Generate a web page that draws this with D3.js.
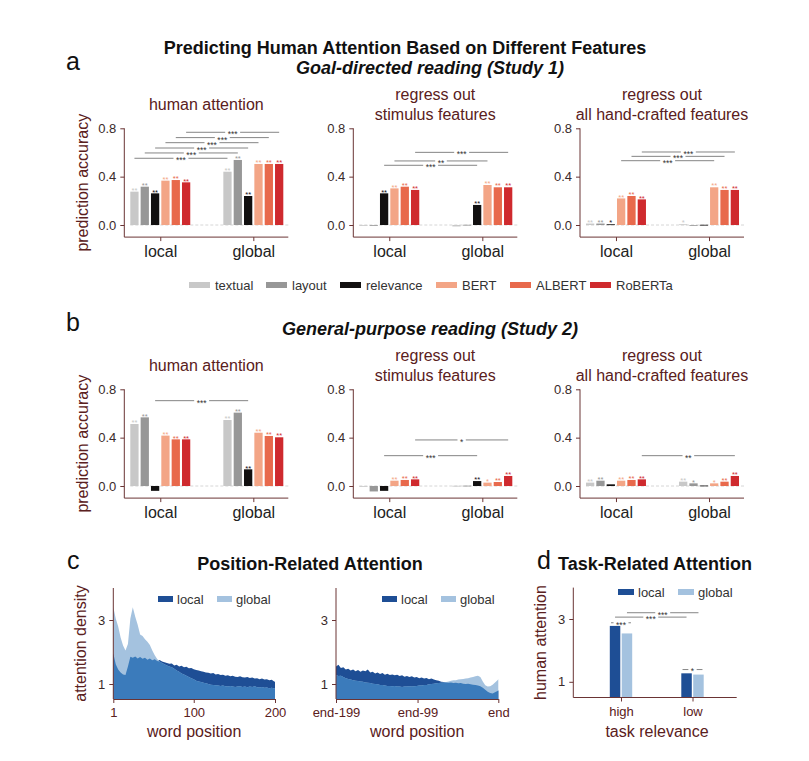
<!DOCTYPE html>
<html><head><meta charset="utf-8">
<script src="https://cdn.jsdelivr.net/npm/d3@7"></script>
<style>
body{margin:0;background:#fff}
text{font-family:"Liberation Sans",Arial,Helvetica,sans-serif}
</style>
</head><body>
<svg id="chart" width="809" height="761"></svg>
<script>
// ---------------- DATA ----------------
const features = ["textual","layout","relevance","BERT","ALBERT","RoBERTa"];
const featureColors = ["#c8c8c8","#979797","#121010","#f3a586","#e8694c","#cf2a2e"];
const groups = ["local","global"];
const barYTicks = [0.0, 0.4, 0.8];

// Panel a (Study 1)
const a1Local  = [0.276, 0.317, 0.262, 0.367, 0.372, 0.353];
const a1Global = [0.441, 0.538, 0.240, 0.505, 0.505, 0.505];
const a1LocalStars  = ["**","**","**","**","**","**"];
const a1GlobalStars = ["**","**","**","**","**","**"];
const a1Brackets = [[0,0.552,"***"],[1,0.596,"***"],[2,0.637,"***"],[3,0.681,"***"],[4,0.723,"***"],[5,0.767,"***"]];

const a2Local  = [0.000, -0.004, 0.262, 0.303, 0.317, 0.290];
const a2Global = [-0.012, 0.002, 0.166, 0.331, 0.312, 0.312];
const a2LocalStars  = ["","","**","**","**","**"];
const a2GlobalStars = ["","","**","**","**","**"];
const a2Brackets = [[2,0.494,"***"],[3,0.530,"**"],[5,0.601,"***"]];

const a3Local  = [0.012, 0.012, 0.006, 0.220, 0.240, 0.212];
const a3Global = [0.006, -0.004, 0.002, 0.312, 0.290, 0.290];
const a3LocalStars  = ["**","**","*","**","**","**"];
const a3GlobalStars = ["*","","","**","**","**"];
const a3Brackets = [[3,0.532,"***"],[4,0.568,"***"],[5,0.604,"***"]];

// Panel b (Study 2)
const b1Local  = [0.513, 0.568, -0.040, 0.417, 0.386, 0.386];
const b1Global = [0.546, 0.607, 0.138, 0.441, 0.414, 0.403];
const b1LocalStars  = ["**","**","","**","**","**"];
const b1GlobalStars = ["**","**","**","**","**","**"];
const b1Brackets = [[2,0.706,"***"]];

const b2Local  = [-0.003, -0.045, -0.040, 0.044, 0.050, 0.055];
const b2Global = [0.002, 0.003, 0.041, 0.028, 0.033, 0.083];
const b2LocalStars  = ["","","","**","**","**"];
const b2GlobalStars = ["","","**","*","**","**"];
const b2Brackets = [[2,0.251,"***"],[5,0.381,"*"]];

const b3Local  = [0.028, 0.044, 0.014, 0.044, 0.050, 0.055];
const b3Global = [0.036, 0.022, 0.004, 0.022, 0.036, 0.083];
const b3LocalStars  = ["**","**","","**","**","**"];
const b3GlobalStars = ["**","*","","*","**","**"];
const b3Brackets = [[5,0.251,"**"]];

// Panel c: attention density by word position (sampled every 3 words)
const cFirstLocal = [1.95,1.62,1.45,1.36,1.30,1.28,1.55,1.85,1.82,1.86,1.80,1.84,1.79,1.82,1.76,1.80,1.74,1.77,1.72,1.75,
  1.70,1.68,1.66,1.63,1.64,1.58,1.60,1.55,1.57,1.52,1.54,1.49,1.50,1.46,1.44,1.42,1.40,1.38,1.36,1.35,
  1.33,1.34,1.30,1.31,1.28,1.29,1.26,1.27,1.24,1.26,1.23,1.22,1.24,1.21,1.20,1.22,1.19,1.20,1.17,1.18,
  1.15,1.17,1.14,1.15,1.12,1.13,1.08,1.07];
const cFirstGlobal = [3.40,3.05,2.80,2.45,2.20,2.05,2.25,3.05,3.40,3.10,2.85,2.55,2.50,2.40,2.32,2.22,2.05,1.90,1.78,1.70,
  1.66,1.62,1.58,1.55,1.52,1.48,1.42,1.38,1.33,1.30,1.26,1.22,1.18,1.15,1.10,1.08,1.06,1.04,1.02,1.00,
  0.98,0.97,0.96,0.95,0.94,0.95,0.93,0.92,0.94,0.92,0.91,0.92,0.93,0.91,0.92,0.90,0.92,0.91,0.93,0.90,
  0.89,0.91,0.88,0.89,0.87,0.88,0.86,0.86];
const cLastLocal = [1.55,1.60,1.50,1.52,1.45,1.48,1.42,1.45,1.40,1.44,1.38,1.42,1.40,1.45,1.36,1.38,1.33,1.36,1.31,1.34,
  1.29,1.32,1.28,1.30,1.27,1.29,1.25,1.27,1.23,1.25,1.22,1.24,1.20,1.22,1.18,1.20,1.17,1.19,1.15,1.17,
  1.14,1.12,1.10,1.07,1.06,1.05,1.04,1.05,1.03,1.04,1.02,1.03,1.01,1.00,1.01,0.99,0.98,0.97,0.95,0.93,
  0.88,0.82,0.76,0.72,0.70,0.74,0.78,0.80];
const cLastGlobal = [1.28,1.25,1.26,1.22,1.18,1.16,1.14,1.12,1.10,1.09,1.08,1.07,1.05,1.04,1.03,1.01,1.00,0.99,0.97,0.97,
  0.95,0.94,0.94,0.93,0.94,0.92,0.92,0.91,0.92,0.92,0.93,0.92,0.93,0.94,0.95,0.95,0.97,0.97,0.99,1.00,
  1.01,1.02,1.03,1.04,1.05,1.06,1.08,1.10,1.12,1.12,1.14,1.15,1.16,1.17,1.18,1.20,1.22,1.24,1.26,1.22,
  1.08,0.96,0.92,0.93,0.98,1.05,1.12,1.15];
const cFirstTicks = [1, 100, 200];
const cLastTicks = [0, 100, 199];
const cLastTickLabels = ["end-199","end-99","end"];
const densityTicks = [1, 3];

// Panel d: task-related attention
const dCategories = ["high","low"];
const dLocal  = [2.78, 1.27];
const dGlobal = [2.54, 1.23];
const dPairStars = ["***","*"];
const dPairLevels = [2.88, 1.39];
const dBrackets = [["local",3.06,"***"],["global",3.20,"***"]];

// ---------------- STYLE ----------------
const FONT = '"Liberation Sans",Arial,Helvetica,sans-serif';
const labelColor = "#5a2020";
const tickColor = "#3a2a2a";
const axisColor = "#6a3434";
const darkBlue = "#1e4e95", lightBlue = "#a4c2df", midBlue = "#3b7bbb";

const svg = d3.select("#chart");

// headers
svg.append("text").attr("x",405).attr("y",54).attr("text-anchor","middle")
  .attr("font-size",18).attr("font-weight","bold").attr("fill","#111")
  .text("Predicting Human Attention Based on Different Features");
function panelLetter(t,x,y){
  svg.append("text").attr("x",x).attr("y",y).attr("font-size",25).attr("fill","#111").text(t);
}
function header(t,x,y,italic){
  svg.append("text").attr("x",x).attr("y",y).attr("text-anchor","middle")
    .attr("font-size",18).attr("font-weight","bold").attr("font-style",italic?"italic":"normal")
    .attr("fill","#111").text(t);
}
panelLetter("a",66,70); header("Goal-directed reading (Study 1)",430,74,true);
panelLetter("b",66,331); header("General-purpose reading (Study 2)",430,335,true);
panelLetter("c",67,569); header("Position-Related Attention",310,570,false);
panelLetter("d",537,569); header("Task-Related Attention",655,570,false);

function styleAxis(g, fs, color){
  g.selectAll("path,line").attr("stroke",axisColor);
  g.selectAll("text").attr("font-size",fs).attr("fill",color||tickColor).attr("font-family",FONT);
}

function bracket(g, x1, x2, y, label, fs){
  const mid = (x1+x2)/2;
  const t = g.append("text").attr("x",mid).attr("y",y+0.58*fs).attr("text-anchor","middle")
    .attr("font-size",fs).attr("fill","#333").text(label);
  const w = t.node().getComputedTextLength();
  const gap = w/2 + 2.5;
  if (mid-gap > x1) g.append("line").attr("x1",x1).attr("x2",mid-gap).attr("y1",y).attr("y2",y).attr("stroke","#666").attr("stroke-width",0.8);
  if (x2 > mid+gap) g.append("line").attr("x1",mid+gap).attr("x2",x2).attr("y1",y).attr("y2",y).attr("stroke","#666").attr("stroke-width",0.8);
}

function barSubplot(x0, yTop, yBot, titleLines, localV, globalV, localS, globalS, brackets, yLabel){
  const g = svg.append("g");
  const y = d3.scaleLinear().domain([-0.1, 0.8]).range([yBot, yTop]);
  const slot = d3.scaleBand().domain(d3.range(15)).range([x0+6, x0+159]).paddingInner(0.2);
  const axisEnd = x0 + 164;
  // titles (centred on one baseline row)
  const n = titleLines.length;
  titleLines.forEach((t,i)=>{
    g.append("text").attr("x",x0+82).attr("y",yTop - 18.5 + (i - (n-1)/2)*19.5)
      .attr("text-anchor","middle").attr("font-size",16).attr("fill",labelColor).text(t);
  });
  // zero line
  g.append("line").attr("x1",x0+6).attr("x2",axisEnd).attr("y1",y(0)).attr("y2",y(0))
    .attr("stroke","#d6d6d6").attr("stroke-width",1).attr("stroke-dasharray","3,2");
  // bars
  const rows = [];
  features.forEach((f,i)=>{
    rows.push({slot:i, v:localV[i], s:localS[i], c:featureColors[i]});
    rows.push({slot:9+i, v:globalV[i], s:globalS[i], c:featureColors[i]});
  });
  g.selectAll("rect.bar").data(rows).join("rect").attr("class","bar")
    .attr("x",d=>slot(d.slot)).attr("width",slot.bandwidth())
    .attr("y",d=>Math.min(y(d.v),y(0))).attr("height",d=>Math.max(0.8,Math.abs(y(d.v)-y(0))))
    .attr("fill",d=>d.c);
  g.selectAll("text.star").data(rows.filter(d=>d.s)).join("text").attr("class","star")
    .attr("x",d=>slot(d.slot)+slot.bandwidth()/2).attr("y",d=>Math.min(y(d.v),y(0)) + 1.2)
    .attr("text-anchor","middle").attr("font-size",7.5).attr("fill",d=>d.c).text(d=>d.s);
  // brackets
  brackets.forEach(([k,v,lab])=>{
    bracket(g, slot(k)+slot.bandwidth()/2, slot(9+k)+slot.bandwidth()/2, y(v), lab, 8.5);
  });
  // axes
  const ya = g.append("g").attr("transform",`translate(${x0},0)`)
    .call(d3.axisLeft(y).tickValues(barYTicks).tickFormat(d3.format(".1f")).tickSize(4).tickSizeOuter(0).tickPadding(4));
  ya.select(".domain").attr("d",`M0,${y(0.8)}V${yBot}`);
  styleAxis(ya,13);
  const cL = slot(0) + (slot(5)+slot.bandwidth()-slot(0))/2;
  const cG = slot(9) + (slot(14)+slot.bandwidth()-slot(9))/2;
  const gs = d3.scaleOrdinal().domain(groups).range([cL,cG]);
  const xa = g.append("g").attr("transform",`translate(0,${yBot})`)
    .call(d3.axisBottom(gs).tickSize(4).tickPadding(5));
  xa.select(".domain").remove();
  xa.append("line").attr("x1",x0).attr("x2",axisEnd).attr("stroke",axisColor);
  styleAxis(xa,16,"#222");
  if (yLabel){
    g.append("text").attr("transform",`translate(${x0-36},${(yTop+yBot)/2}) rotate(-90)`)
      .attr("text-anchor","middle").attr("font-size",16).attr("fill",labelColor).text("prediction accuracy");
  }
}

const xs = [124.3, 353.3, 580];
const aTop = 128.3, aBot = 237.1, bTop = 389.3, bBot = 498.1;
barSubplot(xs[0], aTop, aBot, ["human attention"], a1Local, a1Global, a1LocalStars, a1GlobalStars, a1Brackets, true);
barSubplot(xs[1], aTop, aBot, ["regress out","stimulus features"], a2Local, a2Global, a2LocalStars, a2GlobalStars, a2Brackets, false);
barSubplot(xs[2], aTop, aBot, ["regress out","all hand-crafted features"], a3Local, a3Global, a3LocalStars, a3GlobalStars, a3Brackets, false);
barSubplot(xs[0], bTop, bBot, ["human attention"], b1Local, b1Global, b1LocalStars, b1GlobalStars, b1Brackets, true);
barSubplot(xs[1], bTop, bBot, ["regress out","stimulus features"], b2Local, b2Global, b2LocalStars, b2GlobalStars, b2Brackets, false);
barSubplot(xs[2], bTop, bBot, ["regress out","all hand-crafted features"], b3Local, b3Global, b3LocalStars, b3GlobalStars, b3Brackets, false);

// legend for bar panels
const legendX = [189, 266, 340, 436, 510, 590];
const lg = svg.append("g");
features.forEach((f,i)=>{
  lg.append("rect").attr("x",legendX[i]).attr("y",282).attr("width",21).attr("height",6).attr("fill",featureColors[i]);
  lg.append("text").attr("x",legendX[i]+26).attr("y",289.5).attr("font-size",13).attr("fill","#333").text(f);
});

// ---------------- Panel c ----------------
function densityPlot(x0, x1, domain, ticks, tickLabels, localV, globalV, positions, yLabel, legX){
  const g = svg.append("g");
  const x = d3.scaleLinear().domain(domain).range([x0, x1]);
  const y = d3.scaleLinear().domain([0.5, 4]).range([700, 588]);
  const base = 699;
  const pts = positions.map((p,i)=>({p, l:localV[i], gl:globalV[i]}));
  const area = acc => d3.area().x(d=>x(d.p)).y0(base).y1(d=>y(acc(d)));
  g.append("path").datum(pts).attr("d",area(d=>d.l)).attr("fill",darkBlue);
  g.append("path").datum(pts).attr("d",area(d=>d.gl)).attr("fill",lightBlue);
  g.append("path").datum(pts).attr("d",area(d=>Math.min(d.l,d.gl))).attr("fill",midBlue);
  const ya = g.append("g").attr("transform",`translate(${x0},0)`)
    .call(d3.axisLeft(y).tickValues(densityTicks).tickFormat(d3.format("d")).tickSize(4).tickSizeOuter(0).tickPadding(4));
  ya.select(".domain").attr("d",`M0,${y(4)}V${base}`);
  styleAxis(ya,13);
  const xa = g.append("g").attr("transform",`translate(0,${base})`)
    .call(d3.axisBottom(x).tickValues(ticks).tickFormat((d,i)=>tickLabels[i]).tickSize(4).tickSizeOuter(0).tickPadding(5));
  styleAxis(xa,13,labelColor);
  g.append("text").attr("x",(x0+x1)/2).attr("y",737).attr("text-anchor","middle").attr("font-size",16).attr("fill",labelColor).text("word position");
  if (yLabel){
    g.append("text").attr("transform",`translate(86,${(588+base)/2}) rotate(-90)`)
      .attr("text-anchor","middle").attr("font-size",16).attr("fill",labelColor).text("attention density");
  }
  // legend
  [[darkBlue,"local"],[lightBlue,"global"]].forEach(([c,t],i)=>{
    const lx = legX[i];
    g.append("rect").attr("x",lx).attr("y",596).attr("width",15).attr("height",6).attr("fill",c);
    g.append("text").attr("x",lx+19).attr("y",603.5).attr("font-size",13).attr("fill","#333").text(t);
  });
}
const firstPositions = d3.range(cFirstLocal.length).map(i=>Math.min(1+3*i,200));
const lastPositions = d3.range(cLastLocal.length).map(i=>Math.min(3*i,199));
densityPlot(113.3, 275, [1,200], cFirstTicks, cFirstTicks.map(String), cFirstLocal, cFirstGlobal, firstPositions, true, [158,217]);
densityPlot(336, 498.3, [0,199], cLastTicks, cLastTickLabels, cLastLocal, cLastGlobal, lastPositions, false, [382,441]);

// ---------------- Panel d ----------------
(function(){
  const g = svg.append("g");
  const x0 = 573.3, x1 = 736.7, base = 697.5;
  const y = d3.scaleLinear().domain([0.5, 4]).range([697.5, 587.6]);
  const xc = d3.scalePoint().domain(dCategories).range([621, 692.5]);
  const sub = d3.scaleBand().domain(groups).range([-11.2, 11.2]).paddingInner(0.12);
  const rows = [];
  dCategories.forEach((c,i)=>{
    rows.push({c, grp:"local", v:dLocal[i], col:darkBlue});
    rows.push({c, grp:"global", v:dGlobal[i], col:lightBlue});
  });
  g.selectAll("rect").data(rows).join("rect")
    .attr("x",d=>xc(d.c)+sub(d.grp)).attr("width",sub.bandwidth())
    .attr("y",d=>y(d.v)).attr("height",d=>base-y(d.v)).attr("fill",d=>d.col);
  dCategories.forEach((c,i)=>{
    bracket(g, xc(c)+sub("local")+sub.bandwidth()/2-4, xc(c)+sub("global")+sub.bandwidth()/2+4, y(dPairLevels[i]), dPairStars[i], 8.5);
  });
  dBrackets.forEach(([grp,v,lab])=>{
    bracket(g, xc("high")+sub(grp)+sub.bandwidth()/2, xc("low")+sub(grp)+sub.bandwidth()/2, y(v), lab, 8.5);
  });
  const ya = g.append("g").attr("transform",`translate(${x0},0)`)
    .call(d3.axisLeft(y).tickValues(densityTicks).tickFormat(d3.format("d")).tickSize(4).tickSizeOuter(0).tickPadding(4));
  ya.select(".domain").attr("d",`M0,${y(4)}V${base}`);
  styleAxis(ya,13);
  const xa = g.append("g").attr("transform",`translate(0,${base})`)
    .call(d3.axisBottom(xc).tickSize(4).tickPadding(5));
  xa.select(".domain").remove();
  xa.append("line").attr("x1",x0).attr("x2",x1).attr("stroke",axisColor);
  styleAxis(xa,13,labelColor);
  g.append("text").attr("x",657).attr("y",737).attr("text-anchor","middle").attr("font-size",16).attr("fill",labelColor).text("task relevance");
  g.append("text").attr("transform",`translate(${x0-27},${(587.6+base)/2}) rotate(-90)`)
    .attr("text-anchor","middle").attr("font-size",16).attr("fill",labelColor).text("human attention");
  [[darkBlue,"local",618],[lightBlue,"global",678]].forEach(([c,t,lx])=>{
    g.append("rect").attr("x",lx).attr("y",589).attr("width",16).attr("height",6).attr("fill",c);
    g.append("text").attr("x",lx+20).attr("y",597).attr("font-size",13).attr("fill","#333").text(t);
  });
})();
</script>
</body></html>
